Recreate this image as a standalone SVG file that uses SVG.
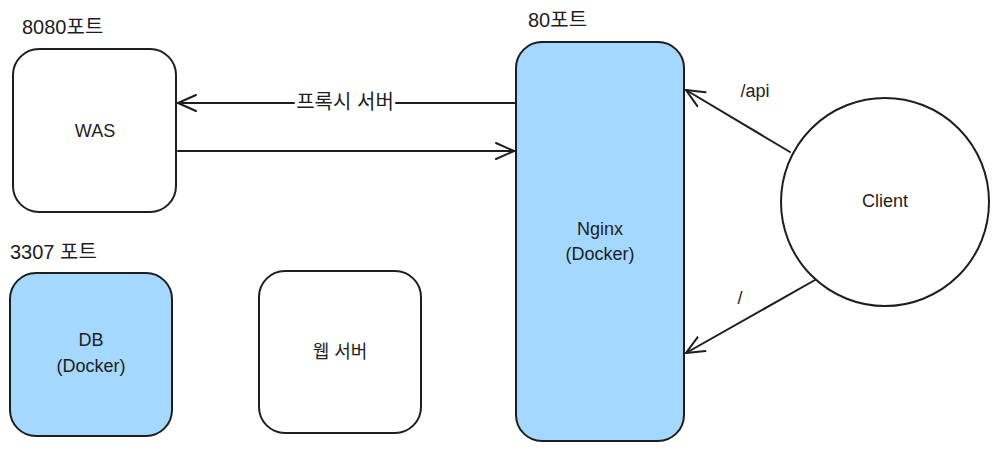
<svg xmlns="http://www.w3.org/2000/svg" width="999" height="451" viewBox="0 0 999 451">
<style>
.box{stroke:#1e1e1e;stroke-width:2;}
.w{fill:#ffffff;}
.b{fill:#a5d8ff;}
.t{font-family:"Liberation Sans","Noto Sans CJK KR",sans-serif;font-size:18px;fill:#1e1e1e;text-anchor:middle;}
.p{font-family:"Liberation Sans","Noto Sans CJK KR",sans-serif;font-size:20px;fill:#1e1e1e;}
.c{stroke:#1e1e1e;stroke-width:2;fill:none;stroke-linecap:round;}
</style>
<defs>
<marker id="ah" viewBox="0 0 20 20" refX="19" refY="10" markerWidth="20" markerHeight="20" markerUnits="userSpaceOnUse" orient="auto">
<path d="M1,2 L19,10 L1,18" fill="none" stroke="#1e1e1e" stroke-width="2" stroke-linecap="round"/>
</marker>
</defs>
<rect width="999" height="451" fill="#ffffff"/>
<g id="was">
<rect class="box w" x="13" y="49" width="163" height="163" rx="26"/>
<text class="p" x="22" y="34">8080포트</text>
<text class="t" x="95" y="137">WAS</text>
</g>
<g id="nginx">
<rect class="box b" x="516" y="42" width="168" height="399" rx="26"/>
<text class="p" x="528" y="27">80포트</text>
<text class="t" x="600" y="235">Nginx</text>
<text class="t" x="600" y="260">(Docker)</text>
</g>
<g id="client">
<circle class="box w" cx="885" cy="202" r="104"/>
<text class="t" x="885" y="207">Client</text>
</g>
<g id="db">
<rect class="box b" x="10" y="273" width="162" height="163" rx="26"/>
<text class="p" x="10" y="259">3307 포트</text>
<text class="t" x="91" y="346">DB</text>
<text class="t" x="91" y="372">(Docker)</text>
</g>
<g id="webserver">
<rect class="box w" x="259" y="271" width="162" height="162" rx="26"/>
<text class="t" x="340" y="358">웹 서버</text>
</g>
<g id="connectors">
<path class="c" d="M294,103 L178,103" marker-end="url(#ah)"/>
<path class="c" d="M516,103 L396,103" stroke-width="3"/>
<text class="t" x="345" y="109" style="font-size:20px">프록시 서버</text>
<path class="c" d="M178,151 L514,151" stroke-width="3" marker-end="url(#ah)"/>
<path class="c" d="M790,152 L686,90" marker-end="url(#ah)"/>
<text class="t" x="755" y="97">/api</text>
<path class="c" d="M815,280 L686,353" marker-end="url(#ah)"/>
<text class="t" x="740" y="304">/</text>
</g>
</svg>
